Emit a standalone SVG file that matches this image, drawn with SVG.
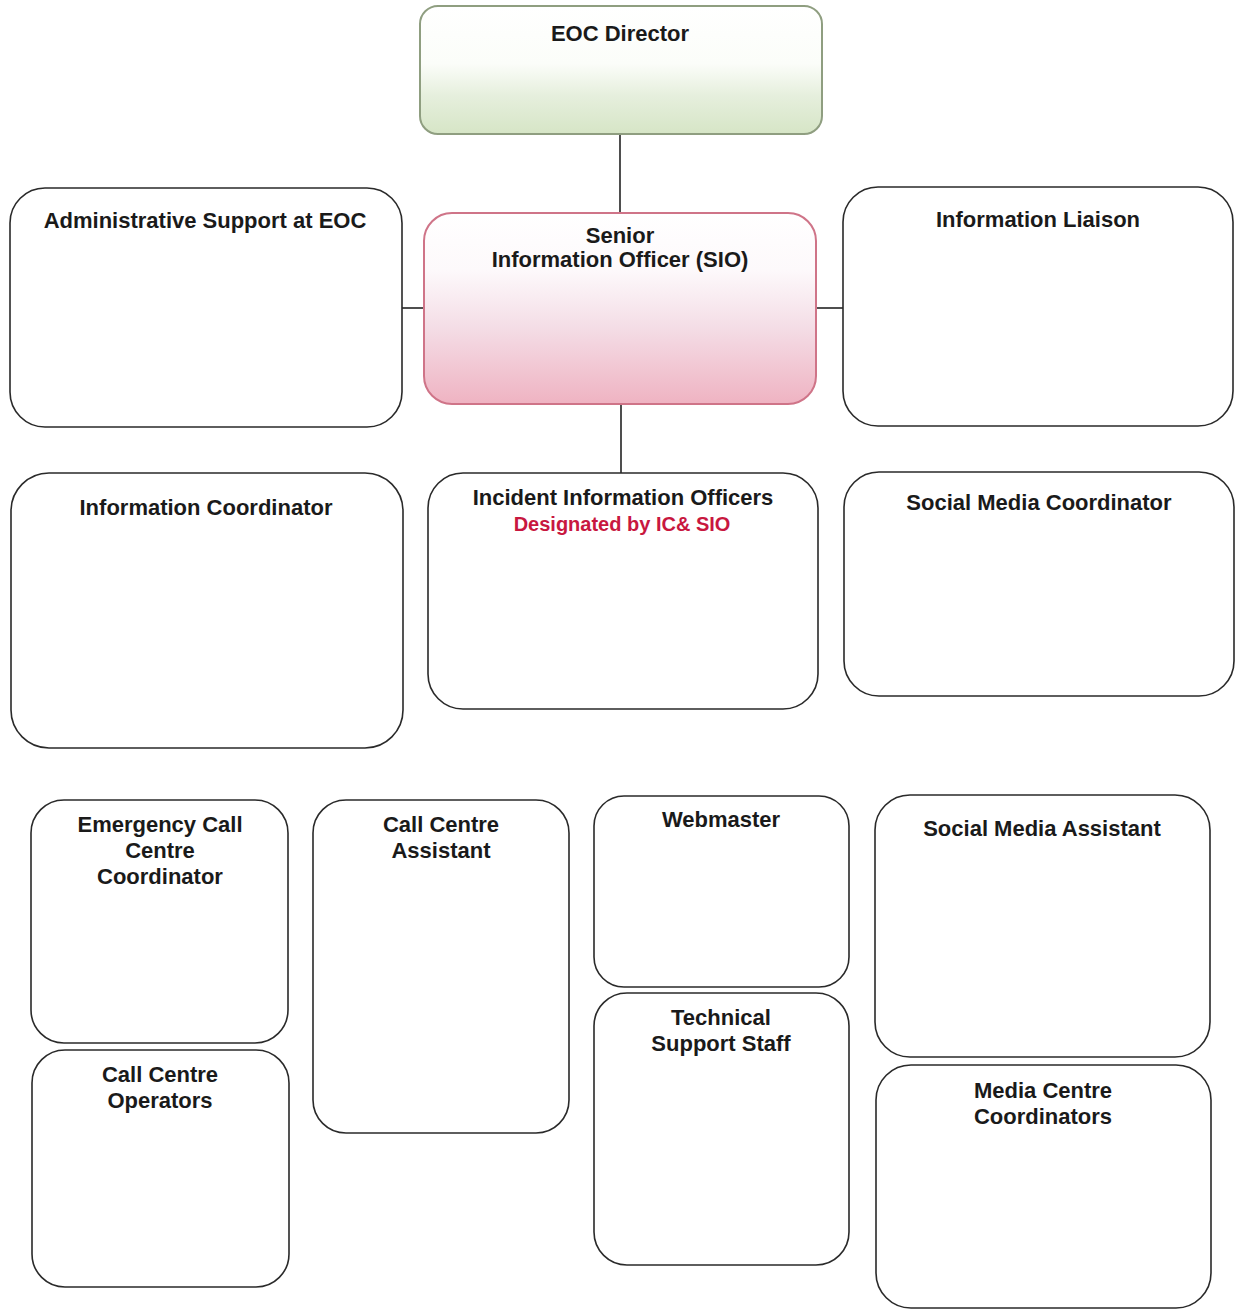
<svg xmlns="http://www.w3.org/2000/svg" width="1235" height="1309" viewBox="0 0 1235 1309">
<style>
.box{fill:#fff;stroke:#2a2a2a;stroke-width:1.6}
.t{font-family:"Liberation Sans",Arial,sans-serif;font-weight:bold;font-size:22px;fill:#1a1a1a;text-anchor:middle}
.r{fill:#c8173f;font-size:20px}
.c{stroke:#222;stroke-width:1.6;fill:none}
</style>
<defs>
<linearGradient id="g" x1="0" y1="0" x2="0" y2="1">
<stop offset="0" stop-color="#ffffff"/>
<stop offset="0.45" stop-color="#fbfdf9"/>
<stop offset="0.7" stop-color="#e6efdd"/>
<stop offset="1" stop-color="#d6e5c6"/>
</linearGradient>
<linearGradient id="p" x1="0" y1="0" x2="0" y2="1">
<stop offset="0" stop-color="#ffffff"/>
<stop offset="0.3" stop-color="#fdf9fb"/>
<stop offset="0.6" stop-color="#f4dde6"/>
<stop offset="1" stop-color="#efb3c2"/>
</linearGradient>
</defs>
<g id="connectors">
<line class="c" x1="620" y1="134" x2="620" y2="213"/>
<line class="c" x1="621" y1="404" x2="621" y2="473"/>
<line class="c" x1="402" y1="308" x2="424" y2="308"/>
<line class="c" x1="816" y1="308" x2="843" y2="308"/>
</g>
<g id="eoc-director">
<rect x="420" y="6" width="402" height="128" rx="18" fill="url(#g)" stroke="#8f9e80" stroke-width="2"/>
<text class="t" x="620" y="41">EOC Director</text>
</g>
<g id="sio">
<rect x="424" y="213" width="392" height="191" rx="28" fill="url(#p)" stroke="#cf7488" stroke-width="2"/>
<text class="t" x="620" y="243" font-size="21">Senior</text>
<text class="t" x="620" y="267" font-size="21.5">Information Officer (SIO)</text>
</g>
<g id="admin-support">
<rect class="box" x="10" y="188" width="392" height="239" rx="35"/>
<text class="t" x="205" y="228">Administrative Support at EOC</text>
</g>
<g id="info-liaison">
<rect class="box" x="843" y="187" width="390" height="239" rx="35"/>
<text class="t" x="1038" y="227">Information Liaison</text>
</g>
<g id="info-coordinator">
<rect class="box" x="11" y="473" width="392" height="275" rx="38"/>
<text class="t" x="206" y="515">Information Coordinator</text>
</g>
<g id="incident-info-officers">
<rect class="box" x="428" y="473" width="390" height="236" rx="35"/>
<text class="t" x="623" y="505">Incident Information Officers</text>
<text class="t r" x="622" y="531">Designated by IC&amp; SIO</text>
</g>
<g id="social-media-coordinator">
<rect class="box" x="844" y="472" width="390" height="224" rx="35"/>
<text class="t" x="1039" y="510">Social Media Coordinator</text>
</g>
<g id="emergency-call-centre-coordinator">
<rect class="box" x="31" y="800" width="257" height="243" rx="33"/>
<text class="t" x="160" y="832">Emergency Call</text>
<text class="t" x="160" y="858">Centre</text>
<text class="t" x="160" y="884">Coordinator</text>
</g>
<g id="call-centre-operators">
<rect class="box" x="32" y="1050" width="257" height="237" rx="33"/>
<text class="t" x="160" y="1082">Call Centre</text>
<text class="t" x="160" y="1108">Operators</text>
</g>
<g id="call-centre-assistant">
<rect class="box" x="313" y="800" width="256" height="333" rx="33"/>
<text class="t" x="441" y="832">Call Centre</text>
<text class="t" x="441" y="858">Assistant</text>
</g>
<g id="webmaster">
<rect class="box" x="594" y="796" width="255" height="191" rx="30"/>
<text class="t" x="721" y="827">Webmaster</text>
</g>
<g id="technical-support-staff">
<rect class="box" x="594" y="993" width="255" height="272" rx="33"/>
<text class="t" x="721" y="1025">Technical</text>
<text class="t" x="721" y="1051">Support Staff</text>
</g>
<g id="social-media-assistant">
<rect class="box" x="875" y="795" width="335" height="262" rx="35"/>
<text class="t" x="1042" y="836">Social Media Assistant</text>
</g>
<g id="media-centre-coordinators">
<rect class="box" x="876" y="1065" width="335" height="243" rx="35"/>
<text class="t" x="1043" y="1098">Media Centre</text>
<text class="t" x="1043" y="1124">Coordinators</text>
</g>
</svg>
